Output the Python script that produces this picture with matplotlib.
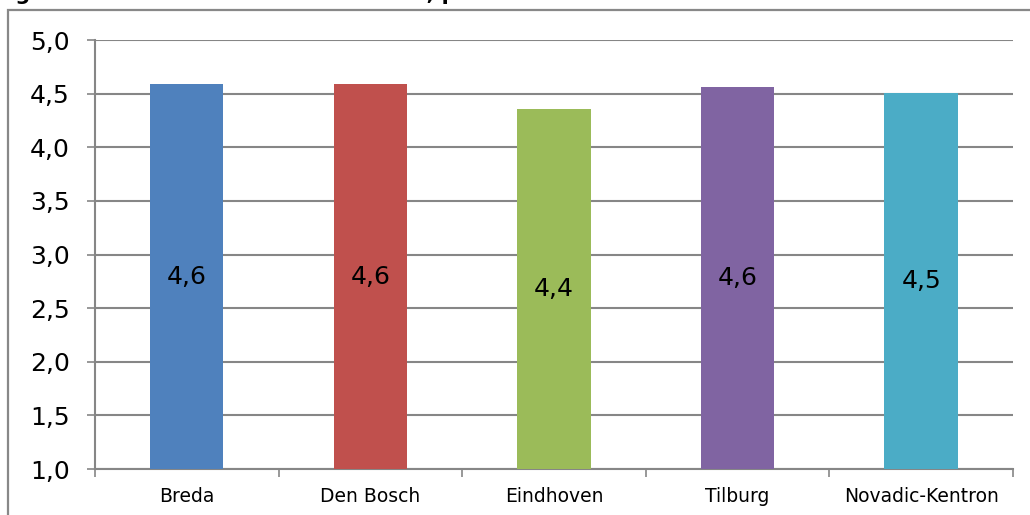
import matplotlib.pyplot as plt
from matplotlib.patches import Rectangle
from matplotlib.ticker import FuncFormatter, FixedLocator

locaties = ['Breda', 'Den Bosch', 'Eindhoven', 'Tilburg', 'Novadic-Kentron']
scores = [4.59, 4.59, 4.36, 4.56, 4.51]
kleuren = ['#4F81BD', '#C0504D', '#9BBB59', '#8064A2', '#4BACC6']
titel = 'Figuur 5: Schaalscores tevredenheid, per locatie'

plt.rcParams['font.family'] = ['Verdana', 'DejaVu Sans']

fig = plt.figure(figsize=(10.3, 5.15), dpi=100)
ax = fig.add_axes([0.0922, 0.0893, 0.8913, 0.8327])

# kader om de grafiek heen
fig.patches.append(Rectangle((8 / 1030, -0.2), 1.2, 0.2 + 1 - 10 / 515,
                             transform=fig.transFigure, fill=False,
                             edgecolor='#888888', linewidth=1.6))
fig.text(-0.006, 1.0, titel, fontsize=15, fontweight='bold', ha='left', va='baseline')

x = range(len(locaties))
bars = ax.bar(x, [s - 1 for s in scores], bottom=1, width=0.4, color=kleuren, zorder=3)
for i, s in enumerate(scores):
    ax.text(i, (1 + s) / 2, ('%.1f' % s).replace('.', ','), ha='center', va='center',
            fontsize=18, zorder=4)

ax.set_xlim(-0.5, len(locaties) - 0.5)
ax.set_ylim(1, 5)
ax.set_yticks([1 + 0.5 * i for i in range(9)])
ax.yaxis.set_major_formatter(FuncFormatter(lambda v, p: ('%.1f' % v).replace('.', ',')))
ax.grid(axis='y', color='#868686', linewidth=1.5, zorder=0)

ax.set_xticks(list(x))
ax.set_xticklabels(locaties, fontsize=13.5)
ax.xaxis.set_minor_locator(FixedLocator([i - 0.5 for i in range(len(locaties) + 1)]))
ax.tick_params(axis='x', which='major', length=0, pad=13)
ax.tick_params(axis='x', which='minor', length=6, width=1.2, color='#868686')
ax.tick_params(axis='y', length=6, width=1.2, color='#868686', labelsize=18, pad=12)

for side in ['top', 'right']:
    ax.spines[side].set_visible(False)
for side in ['left', 'bottom']:
    ax.spines[side].set_color('#868686')
    ax.spines[side].set_linewidth(1.5)

fig.savefig('out.png', dpi=100)
